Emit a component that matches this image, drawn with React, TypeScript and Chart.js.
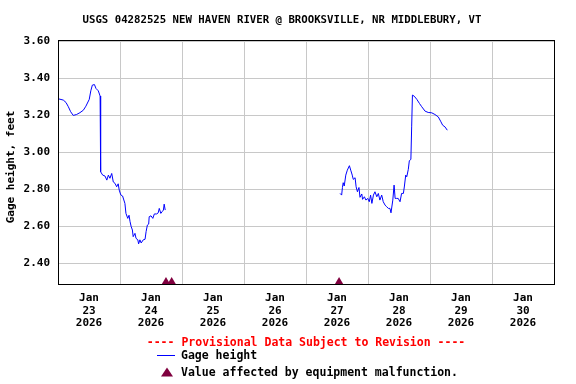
import React, { useEffect, useRef } from "react";
import { Chart, registerables } from "chart.js";
Chart.register(...registerables);

const TITLE = "USGS 04282525 NEW HAVEN RIVER @ BROOKSVILLE, NR MIDDLEBURY, VT";
const Y_LABEL = "Gage height, feet";
const PROVISIONAL = "---- Provisional Data Subject to Revision ----";
const LEGEND_LINE = "Gage height";
const LEGEND_MARK = "Value affected by equipment malfunction.";
const MONTH = "Jan";
const YEAR = "2026";
const DAY_LABELS = ["23", "24", "25", "26", "27", "28", "29", "30"];
const Y_TICKS = [2.4, 2.6, 2.8, 3.0, 3.2, 3.4, 3.6];

// hours since Jan 23 00:00
const HOURS_1 = [0.1, 2.05, 3.1, 4.0, 4.9, 5.9, 7.2, 8.5, 9.8, 10.8, 12.1, 12.7, 13.3, 14.1, 14.7, 15.6, 16.3, 16.4, 16.6, 17.3, 18.2, 18.9, 19.5, 20.1, 20.8, 21.4, 22.1, 22.7, 23.3, 23.7, 24.3, 25.0, 25.9, 26.3, 27.0, 27.5, 27.9, 28.3, 28.8, 29.1, 29.8, 30.2, 30.9, 31.2, 31.7, 32.2, 33.0, 33.7, 34.1, 34.6, 35.1, 35.3, 36.0, 36.7, 37.3, 38.2, 38.8, 39.2, 39.8, 40.3, 40.8, 41.1, 41.5];
const VALUES_1 = [3.29, 3.283, 3.27, 3.247, 3.22, 3.2, 3.205, 3.215, 3.228, 3.25, 3.287, 3.333, 3.364, 3.367, 3.346, 3.333, 3.305, 3.13, 2.895, 2.877, 2.872, 2.85, 2.877, 2.86, 2.886, 2.84, 2.832, 2.814, 2.83, 2.796, 2.77, 2.764, 2.724, 2.67, 2.643, 2.66, 2.625, 2.6, 2.58, 2.544, 2.562, 2.535, 2.527, 2.505, 2.527, 2.51, 2.527, 2.53, 2.571, 2.607, 2.612, 2.652, 2.657, 2.643, 2.667, 2.667, 2.673, 2.697, 2.67, 2.679, 2.688, 2.72, 2.688];

const HOURS_2 = [109.2, 109.8, 110.1, 110.4, 110.8, 111.4, 112.0, 112.8, 113.4, 113.9, 114.3, 115.0, 115.4, 115.9, 116.5, 116.9, 117.6, 117.9, 118.6, 119.2, 119.9, 120.5, 121.0, 121.5, 122.1, 122.7, 123.4, 124.0, 124.6, 125.3, 125.9, 126.6, 127.2, 127.9, 128.5, 128.9, 129.6, 130.1, 130.5, 131.1, 131.7, 132.4, 133.0, 133.7, 134.1, 134.6, 135.0, 135.6, 136.0, 136.6, 136.9, 137.2, 137.9, 138.9, 139.9, 140.8, 142.1, 143.3, 144.7, 145.9, 147.2, 148.1, 148.9, 149.8, 150.7];
const VALUES_2 = [2.778, 2.769, 2.81, 2.836, 2.818, 2.877, 2.904, 2.928, 2.9, 2.877, 2.854, 2.863, 2.814, 2.787, 2.81, 2.757, 2.775, 2.746, 2.76, 2.742, 2.751, 2.733, 2.769, 2.724, 2.769, 2.787, 2.76, 2.778, 2.742, 2.769, 2.733, 2.715, 2.706, 2.697, 2.697, 2.673, 2.742, 2.823, 2.751, 2.751, 2.751, 2.733, 2.778, 2.778, 2.818, 2.877, 2.868, 2.908, 2.955, 2.962, 3.138, 3.31, 3.304, 3.287, 3.265, 3.247, 3.223, 3.216, 3.214, 3.205, 3.192, 3.169, 3.147, 3.138, 3.12];

const MARK_HOURS = [41.8, 44.0, 108.8];
const MARK_VALUE = 2.294;

const FONT = "'DejaVu Sans Mono', monospace";
const LINE_COLOR = "#0000ff";
const MARK_COLOR = "#80003f";
const GRID_COLOR = "#c8c8c8";

const decoPlugin = {
  id: "deco",
  afterDraw(chart: any) {
    const { ctx, chartArea: a } = chart;
    ctx.save();
    ctx.strokeStyle = "#000";
    ctx.lineWidth = 1;
    ctx.strokeRect(a.left + 0.5, a.top + 0.5, a.right - a.left, a.bottom - a.top);

    ctx.fillStyle = "#000";
    ctx.textBaseline = "middle";
    ctx.textAlign = "center";
    ctx.font = `bold 10.7px ${FONT}`;
    ctx.fillText(TITLE, 282, 20);

    ctx.save();
    ctx.translate(11, 167);
    ctx.rotate(-Math.PI / 2);
    ctx.font = `bold 11px ${FONT}`;
    ctx.fillText(Y_LABEL, 0, 0);
    ctx.restore();

    ctx.font = `bold 11.5px ${FONT}`;
    ctx.fillStyle = "#ff0000";
    ctx.textAlign = "center";
    ctx.fillText(PROVISIONAL, 306, 343);

    ctx.fillStyle = "#000";
    ctx.textAlign = "left";
    ctx.fillText(LEGEND_LINE, 181, 356);
    ctx.fillText(LEGEND_MARK, 181, 373);

    ctx.strokeStyle = LINE_COLOR;
    ctx.beginPath();
    ctx.moveTo(157, 355.5);
    ctx.lineTo(175, 355.5);
    ctx.stroke();

    ctx.fillStyle = MARK_COLOR;
    ctx.beginPath();
    ctx.moveTo(167, 367.5);
    ctx.lineTo(173, 376.5);
    ctx.lineTo(161, 376.5);
    ctx.closePath();
    ctx.fill();
    ctx.restore();
  },
};

export default function App() {
  const ref = useRef<HTMLCanvasElement | null>(null);
  useEffect(() => {
    if (!ref.current) return;
    const xTicks: number[] = [];
    for (let h = 0; h <= 192; h += 12) xTicks.push(h);
    const chart = new Chart(ref.current, {
      type: "line",
      data: {
        datasets: [
          {
            data: HOURS_1.map((h, i) => ({ x: h, y: VALUES_1[i] })),
            borderColor: LINE_COLOR,
            borderWidth: 1,
            pointRadius: 0,
            tension: 0,
            fill: false,
          },
          {
            data: HOURS_2.map((h, i) => ({ x: h, y: VALUES_2[i] })),
            borderColor: LINE_COLOR,
            borderWidth: 1,
            pointRadius: 0,
            tension: 0,
            fill: false,
          },
          {
            data: MARK_HOURS.map((h) => ({ x: h, y: MARK_VALUE })),
            showLine: false,
            pointStyle: "triangle",
            pointRadius: 6,
            pointBackgroundColor: MARK_COLOR,
            pointBorderColor: MARK_COLOR,
            pointBorderWidth: 0,
            clip: 0,
          } as any,
        ],
      },
      options: {
        animation: false,
        responsive: false,
        maintainAspectRatio: false,
        events: [],
        layout: { padding: { top: 40, right: 22, left: 0, bottom: 0 } },
        plugins: {
          legend: { display: false },
          title: { display: false },
          tooltip: { enabled: false },
        },
        scales: {
          x: {
            type: "linear",
            min: 0,
            max: 192,
            afterBuildTicks: (s: any) => {
              s.ticks = xTicks.map((v) => ({ value: v }));
            },
            afterFit: (s: any) => {
              s.height = 100;
            },
            grid: {
              drawTicks: false,
              color: (c: any) =>
                c.tick && c.tick.value % 24 === 0 ? GRID_COLOR : "rgba(0,0,0,0)",
            },
            border: { display: false },
            ticks: {
              autoSkip: false,
              maxRotation: 0,
              padding: 8,
              color: "#000",
              font: { family: FONT, weight: "bold", size: 11, lineHeight: 1.15 },
              callback: (v: any) => {
                const n = Number(v);
                if (n % 24 !== 12) return "";
                const i = Math.floor(n / 24);
                return [MONTH, DAY_LABELS[i], YEAR];
              },
            },
          },
          y: {
            type: "linear",
            min: 2.288,
            max: 3.608,
            afterBuildTicks: (s: any) => {
              s.ticks = Y_TICKS.map((v) => ({ value: v }));
            },
            afterFit: (s: any) => {
              s.width = 58;
            },
            grid: { drawTicks: false, color: GRID_COLOR },
            border: { display: false },
            ticks: {
              padding: 8,
              color: "#000",
              font: { family: FONT, weight: "bold", size: 11 },
              callback: (v: any) => Number(v).toFixed(2),
            },
          },
        },
      },
      plugins: [decoPlugin],
    });
    return () => chart.destroy();
  }, []);
  return (
    <div style={{ position: "fixed", left: 0, top: 0, width: 576, height: 384, background: "#fff" }}>
      <canvas ref={ref} width={576} height={384} style={{ width: 576, height: 384 }} />
    </div>
  );
}
